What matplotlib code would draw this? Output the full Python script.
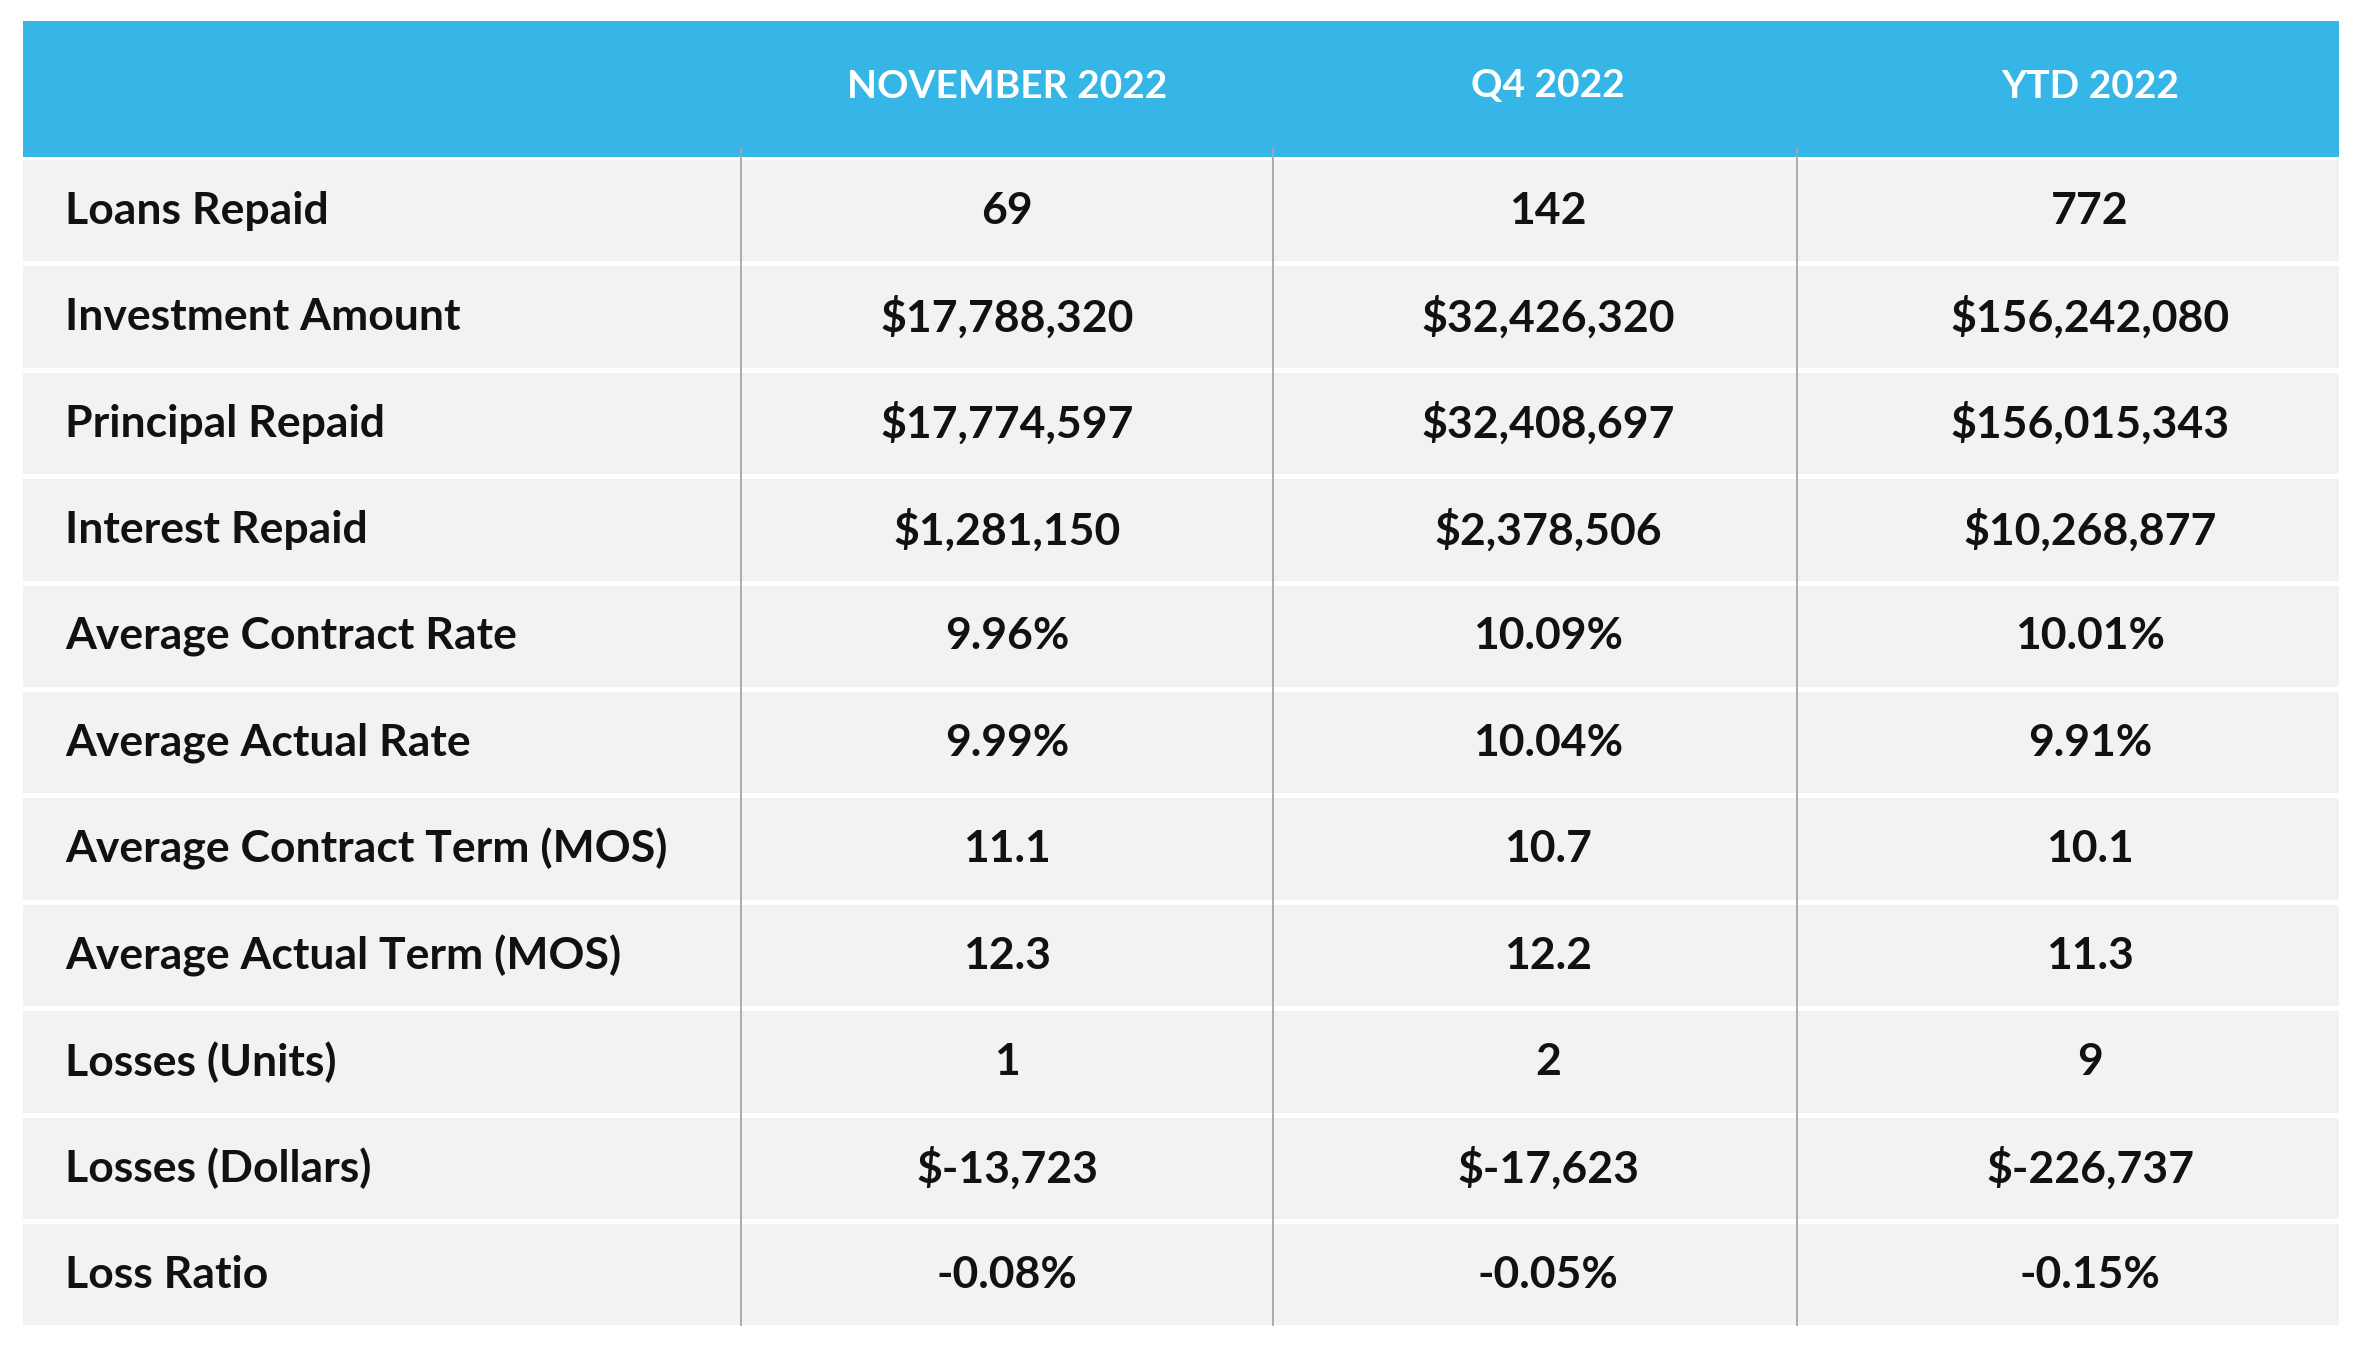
import matplotlib
matplotlib.use("Agg")
import matplotlib.pyplot as plt
from matplotlib.patches import Rectangle

# data
col_headers = ["NOVEMBER 2022", "Q4 2022", "YTD 2022"]
row_labels = ["Loans Repaid", "Investment Amount", "Principal Repaid", "Interest Repaid",
              "Average Contract Rate", "Average Actual Rate", "Average Contract Term (MOS)",
              "Average Actual Term (MOS)", "Losses (Units)", "Losses (Dollars)", "Loss Ratio"]
nov_2022 = ["69", "$17,788,320", "$17,774,597", "$1,281,150", "9.96%", "9.99%",
            "11.1", "12.3", "1", "$-13,723", "-0.08%"]
q4_2022 = ["142", "$32,426,320", "$32,408,697", "$2,378,506", "10.09%", "10.04%",
           "10.7", "12.2", "2", "$-17,623", "-0.05%"]
ytd_2022 = ["772", "$156,242,080", "$156,015,343", "$10,268,877", "10.01%", "9.91%",
            "10.1", "11.3", "9", "$-226,737", "-0.15%"]
columns = [nov_2022, q4_2022, ytd_2022]

W, H = 2368, 1359
fig = plt.figure(figsize=(W / 100, H / 100), dpi=100)
ax = fig.add_axes([0, 0, 1, 1])
ax.set_xlim(0, W)
ax.set_ylim(H, 0)
ax.axis("off")

blue = "#36B6E7"
grey_bg = "#F2F2F2"
line_c = "#A6A6A6"
font = ["Lato", "DejaVu Sans"]

left, right = 23, 2339
head_top, head_bot = 21, 157
row_top0 = 160
pitch = 106.4
gap = 5
col_x = [1007, 1548, 2090]
vlines = [741, 1273, 1797]

# header
ax.add_patch(Rectangle((left, head_top), right - left, head_bot - head_top, color=blue, lw=0))
for cx, txt in zip(col_x, col_headers):
    ax.text(cx, (head_top + head_bot) / 2 - 3, txt, ha="center", va="center", color="white",
            fontsize=28, fontweight="bold", family=font)

# rows
n = len(row_labels)
for i, lab in enumerate(row_labels):
    top = row_top0 + i * pitch
    ax.add_patch(Rectangle((left, top), right - left, pitch - gap, color=grey_bg, lw=0))
    yc = top + (pitch - gap) / 2
    ax.text(65, yc, lab, ha="left", va="center", color="#111111",
            fontsize=32, fontweight="bold", family=font)
    for cx, col in zip(col_x, columns):
        ax.text(cx, yc, col[i], ha="center", va="center", color="#111111",
                fontsize=32, fontweight="bold", family=font)

bottom = row_top0 + n * pitch - gap
for vx in vlines:
    ax.plot([vx, vx], [head_bot - 8, bottom], color=line_c, lw=1.3)

fig.savefig("out.png", dpi=100, facecolor="white")
